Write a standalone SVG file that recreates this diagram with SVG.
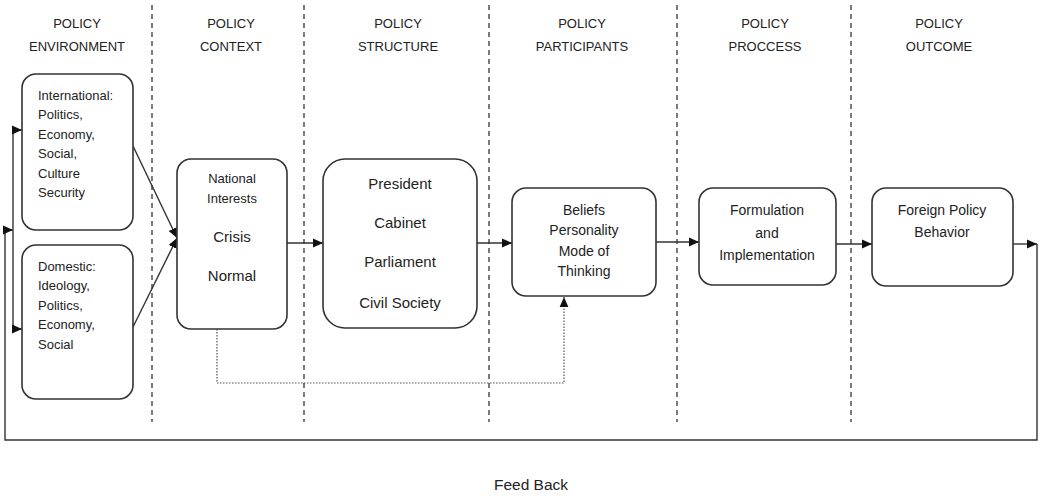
<svg xmlns="http://www.w3.org/2000/svg" width="1042" height="496" viewBox="0 0 1042 496">
<defs>
<marker id="ah" markerUnits="userSpaceOnUse" markerWidth="10" markerHeight="10" viewBox="0 0 10 10" refX="10" refY="5" orient="auto">
<path d="M0,0.6 L10,5 L0,9.4 Z" fill="#111"/>
</marker>
<style>
.hd{font-family:"Liberation Sans",Arial,sans-serif;font-size:13px;fill:#222;text-anchor:middle}
.sep{stroke:#333;stroke-width:1.3;stroke-dasharray:5,4;fill:none}
.box{fill:#fff;stroke:#333;stroke-width:1.6}
.sm{font-family:"Liberation Sans",Arial,sans-serif;font-size:13px;fill:#222}
.md{font-family:"Liberation Sans",Arial,sans-serif;font-size:14px;fill:#222;text-anchor:middle}
.lg{font-family:"Liberation Sans",Arial,sans-serif;font-size:15px;fill:#222;text-anchor:middle}
.ln{stroke:#333;stroke-width:1.4;fill:none}
.dot{stroke:#555;stroke-width:1.2;stroke-dasharray:1.5,1.5;fill:none}
</style>
</defs>
<g id="headers">
<text class="hd" x="77" y="27.5">POLICY</text><text class="hd" x="77" y="50.5">ENVIRONMENT</text>
<text class="hd" x="231" y="27.5">POLICY</text><text class="hd" x="231" y="50.5">CONTEXT</text>
<text class="hd" x="398" y="27.5">POLICY</text><text class="hd" x="398" y="50.5">STRUCTURE</text>
<text class="hd" x="582" y="27.5">POLICY</text><text class="hd" x="582" y="50.5">PARTICIPANTS</text>
<text class="hd" x="765" y="27.5">POLICY</text><text class="hd" x="765" y="50.5">PROCCESS</text>
<text class="hd" x="939" y="27.5">POLICY</text><text class="hd" x="939" y="50.5">OUTCOME</text>
</g>
<g id="separators">
<line class="sep" x1="152" y1="5" x2="152" y2="422"/>
<line class="sep" x1="304" y1="5" x2="304" y2="422"/>
<line class="sep" x1="489" y1="5" x2="489" y2="422"/>
<line class="sep" x1="677" y1="5" x2="677" y2="422"/>
<line class="sep" x1="851" y1="5" x2="851" y2="422"/>
</g>
<g id="connectors">
<line class="ln" x1="133" y1="146" x2="177" y2="238" marker-end="url(#ah)"/>
<line class="ln" x1="133" y1="327" x2="177" y2="238" marker-end="url(#ah)"/>
<line class="ln" x1="287" y1="243" x2="323" y2="243" marker-end="url(#ah)"/>
<line class="ln" x1="477" y1="243" x2="512" y2="243" marker-end="url(#ah)"/>
<line class="ln" x1="656" y1="242" x2="699" y2="242" marker-end="url(#ah)"/>
<line class="ln" x1="836" y1="244" x2="872" y2="244" marker-end="url(#ah)"/>
<line class="ln" x1="1013" y1="244" x2="1037" y2="244" marker-end="url(#ah)"/>
<polyline class="ln" points="1037,244 1037,440 5,440 5,230 13,230" marker-end="url(#ah)"/>
<line class="ln" x1="13" y1="130" x2="13" y2="329"/>
<line class="ln" x1="13" y1="130" x2="22" y2="130" marker-end="url(#ah)"/>
<line class="ln" x1="13" y1="329" x2="22" y2="329" marker-end="url(#ah)"/>
<polyline class="dot" points="217,329 217,383 564,383 564,297" marker-end="url(#ah)"/>
</g>
<g id="international">
<rect class="box" x="22" y="74" width="111" height="156" rx="14"/>
<text class="sm" x="38" y="99.5">International:</text>
<text class="sm" x="38" y="119">Politics,</text>
<text class="sm" x="38" y="138.5">Economy,</text>
<text class="sm" x="38" y="158">Social,</text>
<text class="sm" x="38" y="177.5">Culture</text>
<text class="sm" x="38" y="197">Security</text>
</g>
<g id="domestic">
<rect class="box" x="22" y="245" width="111" height="154" rx="14"/>
<text class="sm" x="38" y="270.5">Domestic:</text>
<text class="sm" x="38" y="290">Ideology,</text>
<text class="sm" x="38" y="309.5">Politics,</text>
<text class="sm" x="38" y="329">Economy,</text>
<text class="sm" x="38" y="348.5">Social</text>
</g>
<g id="context">
<rect class="box" x="177" y="159" width="110" height="170" rx="14"/>
<text class="sm" x="232" y="182.5" text-anchor="middle">National</text>
<text class="sm" x="232" y="202.5" text-anchor="middle">Interests</text>
<text class="lg" x="232" y="241.5">Crisis</text>
<text class="lg" x="232" y="280.5">Normal</text>
</g>
<g id="structure">
<rect class="box" x="323" y="159" width="154" height="169" rx="22"/>
<text class="lg" x="400" y="188.5">President</text>
<text class="lg" x="400" y="227.5">Cabinet</text>
<text class="lg" x="400" y="267">Parliament</text>
<text class="lg" x="400" y="307.5">Civil Society</text>
</g>
<g id="participants">
<rect class="box" x="512" y="188" width="144" height="108" rx="14"/>
<text class="md" x="584" y="214.5">Beliefs</text>
<text class="md" x="584" y="235">Personality</text>
<text class="md" x="584" y="255.5">Mode of</text>
<text class="md" x="584" y="276">Thinking</text>
</g>
<g id="process">
<rect class="box" x="699" y="188" width="137" height="97" rx="14"/>
<text class="md" x="767" y="214.5">Formulation</text>
<text class="md" x="767" y="237.5">and</text>
<text class="md" x="767" y="260">Implementation</text>
</g>
<g id="outcome">
<rect class="box" x="872" y="188" width="141" height="98" rx="14"/>
<text class="md" x="942" y="214.5">Foreign Policy</text>
<text class="md" x="942" y="237">Behavior</text>
</g>
<g id="feedback">
<text class="md" x="531" y="490" style="font-size:15.5px">Feed Back</text>
</g>
</svg>
